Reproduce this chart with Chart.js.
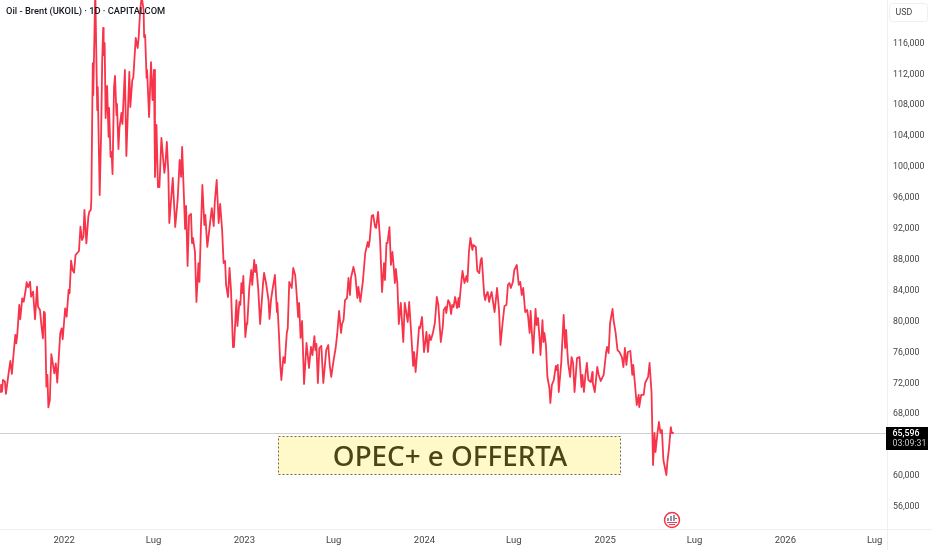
<!DOCTYPE html>
<html>
<head>
<meta charset="utf-8">
<style>html,body{margin:0;padding:0;background:#fff}canvas{display:block}</style>
<script src="https://cdn.jsdelivr.net/npm/chart.js@4"></script>
</head>
<body>
<canvas id="c" width="932" height="550"></canvas>
<script>
// days since 2022-01-01
const days = [-130,-128,-126,-124,-120,-118,-113,-109,-106,-103,-99,-97,-95,-91,-89,-85,-82,-78,-76,-73,-69,-67,-63,-59,-55,-53,-49,-46,-43,-41,-39,-36,-34,-32,-29,-26,-23,-20,-17,-14,-8,-5,-3,2,5,9,11,14,17,20,23,30,33,36,39,41,45,49,51,54,55,58,59,63,67,68,72,75,77,79,80,82,84,87,90,91,94,96,98,101,103,106,107,110,112,116,118,123,126,129,132,134,138,140,145,149,151,154,157,161,162,164,167,168,172,176,179,182,184,187,190,193,197,203,205,208,211,213,220,225,230,234,237,239,245,247,250,253,257,259,261,265,268,272,274,277,280,284,286,290,294,299,303,305,309,313,316,320,323,326,328,332,335,338,342,344,349,351,355,357,359,361,363,367,370,371,375,379,381,385,387,389,393,397,403,405,409,414,416,419,422,427,431,432,435,438,440,444,447,451,453,456,461,464,468,470,474,476,479,482,486,491,496,500,503,507,509,511,514,517,521,525,531,535,538,541,546,550,553,557,561,563,566,569,573,576,579,581,586,590,594,596,600,605,610,615,617,619,623,626,630,632,636,640,644,648,650,653,655,659,662,665,667,670,672,675,678,682,687,690,696,699,703,707,709,712,716,719,721,725,729,734,737,740,743,747,751,755,758,763,767,769,773,774,778,781,784,786,789,792,796,799,800,804,807,811,815,817,820,823,827,829,834,837,841,844,846,851,853,855,858,861,863,866,872,877,881,884,888,892,896,899,902,905,909,912,917,921,924,927,930,934,938,940,943,945,950,955,957,960,964,965,969,971,973,976,979,983,985,988,992,996,998,1000,1002,1007,1012,1015,1017,1019,1021,1025,1028,1031,1034,1039,1044,1048,1050,1053,1056,1059,1062,1067,1070,1071,1075,1080,1083,1087,1093,1098,1100,1103,1106,1111,1113,1117,1121,1125,1130,1133,1136,1139,1142,1147,1151,1153,1156,1160,1164,1165,1169,1174,1177,1183,1186,1190,1193,1196,1198,1202,1205,1208,1211,1214,1218,1220,1222,1225,1229,1231,1235];
const closes = [70.92,71.79,70.92,72.44,72.22,70.63,73.09,74.90,73.22,75.45,78.27,77.19,78.27,82.15,80.30,83.01,82.57,84.09,85.09,84.44,85.16,83.22,83.87,80.30,84.52,81.93,81.50,79.43,77.84,81.28,81.07,71.57,73.09,68.90,69.85,75.80,74.60,73.31,74.60,72.09,78.48,79.13,77.71,81.72,80.63,84.09,83.66,87.88,86.68,86.33,88.62,89.14,92.28,90.56,90.99,94.45,90.13,93.58,94.23,94.45,95.74,113.47,109.33,122.92,107.39,110.37,96.39,104.80,113.60,118.01,114.51,116.06,106.35,110.50,103.90,107.65,101.31,101.95,99.10,110.37,111.79,106.74,108.17,102.34,105.06,107.00,105.58,112.57,101.44,107.00,112.31,107.78,111.27,111.54,116.71,115.42,116.84,120.34,122.02,120.34,116.84,117.10,111.54,112.57,106.48,113.60,108.68,112.57,98.72,105.45,97.42,97.42,103.77,99.24,100.27,103.25,99.36,92.76,98.59,92.24,95.87,100.92,98.72,102.60,91.99,94.96,87.20,93.67,93.93,90.17,90.82,89.01,82.54,87.58,85.13,91.86,97.68,92.50,93.80,89.66,91.86,94.70,92.37,95.35,98.33,92.76,95.22,91.86,87.58,87.84,84.74,83.18,86.94,84.09,76.71,76.71,82.79,79.43,82.54,82.15,84.97,83.70,85.90,78.00,79.82,79.69,84.35,86.68,84.74,87.97,86.42,87.33,84.35,79.69,84.99,86.29,84.99,82.79,80.34,82.79,84.09,86.03,81.24,82.41,78.52,74.25,72.44,75.41,74.64,78.52,79.17,85.13,84.35,86.94,86.03,84.48,80.59,82.41,77.88,80.08,71.92,77.23,73.99,76.71,75.67,78.13,76.32,77.10,72.05,76.58,76.84,72.05,76.32,76.97,74.38,72.83,75.03,76.58,78.27,81.37,78.52,79.69,80.20,82.79,83.05,85.64,83.44,85.64,87.07,85.90,83.05,84.48,82.54,85.13,88.88,90.30,89.66,90.56,93.67,93.80,92.24,92.12,94.19,90.56,83.83,87.58,85.38,90.17,90.17,92.24,87.33,89.01,87.58,84.99,86.81,84.99,79.69,82.41,77.36,82.41,79.95,82.54,78.52,74.25,76.06,73.47,76.71,79.30,79.17,80.59,76.06,78.65,76.06,78.27,77.62,78.52,79.82,83.18,82.15,77.36,79.30,81.50,81.89,81.11,82.79,82.41,80.98,82.15,81.89,83.18,81.76,83.05,81.89,84.74,86.55,84.99,85.90,85.13,89.01,90.82,89.27,89.91,89.66,86.55,86.29,87.97,88.23,83.44,82.79,83.44,83.83,82.54,83.18,83.83,81.24,84.35,81.50,76.97,79.69,82.02,82.15,84.74,84.99,84.35,85.13,86.68,87.33,84.74,85.13,83.44,84.35,81.24,81.50,80.59,78.52,81.37,75.93,81.63,79.56,80.46,76.97,75.67,80.20,77.36,78.52,76.97,72.83,71.40,69.46,71.79,72.44,74.25,73.73,74.38,70.88,74.64,80.85,76.58,78.91,76.58,74.64,72.83,75.41,74.64,70.88,75.29,75.41,71.53,73.09,70.88,73.09,74.64,72.44,72.18,73.47,72.05,70.88,74.12,73.09,72.31,73.09,76.06,76.71,75.93,79.82,81.63,80.20,78.65,76.32,76.06,75.41,74.12,76.58,74.38,76.06,76.19,73.09,74.38,72.18,69.20,70.50,68.94,70.50,70.50,72.05,72.83,74.64,70.76,61.43,65.58,63.12,65.58,67.00,65.58,65.97,62.08,60.79,60.14,61.82,63.38,66.35,65.58,65.60];
const xTickDays = [0,181,365,546,730,911,1096,1277,1461,1642];
const xTickLabels = ['2022','Lug','2023','Lug','2024','Lug','2025','Lug','2026','Lug'];
const priceTicks = [56,60,68,72,76,80,84,88,92,96,100,104,108,112,116];
const lastPrice = 65.596;
const lastPriceText = '65,596';
const countdownText = '03:09:31';
const titleText = 'Oil - Brent (UKOIL) · 1D · CAPITALCOM';
const noteText = 'OPEC+ e OFFERTA';
const currencyText = 'USD';

const uiFont = 'Roboto';
const fmt = v => v.toFixed(3).replace('.', ',');
const noPad = s => { s.paddingTop = s.paddingBottom = s.paddingLeft = s.paddingRight = 0; };
const overlay = {
  id: 'overlay',
  beforeDatasetsDraw(chart) {
    const {ctx, chartArea: a, scales: {y}} = chart;
    const py = Math.round(y.getPixelForValue(lastPrice)) + 0.5;
    ctx.save();
    ctx.strokeStyle = '#d0d0d3';
    ctx.lineWidth = 1;
    ctx.beginPath(); ctx.moveTo(a.left, py); ctx.lineTo(a.right, py); ctx.stroke();
    ctx.restore();
  },
  afterDraw(chart) {
    const {ctx, chartArea: a, scales: {y}} = chart;
    const py = Math.round(y.getPixelForValue(lastPrice));
    ctx.save();
    ctx.strokeStyle = '#eeeff1';
    ctx.lineWidth = 1;
    ctx.beginPath();
    ctx.moveTo(a.right + 0.5, 0); ctx.lineTo(a.right + 0.5, 550);
    ctx.moveTo(0, a.bottom + 0.5); ctx.lineTo(932, a.bottom + 0.5);
    ctx.stroke();
    ctx.fillStyle = '#131722';
    ctx.font = '500 9.3px ' + uiFont;
    ctx.textAlign = 'left'; ctx.textBaseline = 'middle';
    ctx.fillText(titleText, 6, 11.5);
    ctx.fillStyle = '#fff9c9';
    ctx.fillRect(278, 436.5, 342, 38);
    ctx.strokeStyle = '#6e6a50';
    ctx.setLineDash([2, 2]);
    ctx.strokeRect(278.5, 436.5, 342, 38);
    ctx.setLineDash([]);
    ctx.fillStyle = '#4b4515';
    ctx.font = '500 27.8px "Noto Sans"';
    ctx.textAlign = 'center';
    ctx.fillText(noteText, 450, 458);
    ctx.fillStyle = '#000';
    ctx.fillRect(886, py - 6, 42, 23);
    ctx.textAlign = 'left';
    ctx.fillStyle = '#fff';
    ctx.font = '500 8.8px ' + uiFont;
    ctx.fillText(lastPriceText, 892.5, py + 0.5);
    ctx.fillStyle = '#c8c8c8';
    ctx.font = '8.8px ' + uiFont;
    ctx.fillText(countdownText, 892.5, py + 10.5);
    ctx.strokeStyle = '#eeeff1';
    ctx.fillStyle = '#fff';
    ctx.beginPath(); ctx.roundRect(889.5, 3.5, 38, 18, 3); ctx.fill(); ctx.stroke();
    ctx.fillStyle = '#444';
    ctx.font = '8.8px ' + uiFont;
    ctx.fillText(currencyText, 895.5, 12.5);
    const cx = 672, cy = 520;
    ctx.beginPath(); ctx.arc(cx, cy, 7.5, 0, Math.PI * 2);
    ctx.fillStyle = '#fff'; ctx.fill();
    ctx.strokeStyle = '#f0364a'; ctx.lineWidth = 1.5; ctx.stroke();
    ctx.fillStyle = '#8d95a5';
    ctx.fillRect(cx - 5, cy - 2, 2, 3); ctx.fillRect(cx - 2, cy - 4, 2, 5); ctx.fillRect(cx + 1, cy - 5, 2, 6);
    ctx.fillStyle = '#f0364a';
    ctx.fillRect(cx - 5, cy + 2, 10, 1); ctx.fillRect(cx - 3, cy + 4, 6, 1); ctx.fillRect(cx + 3, cy - 2, 2, 1);
    ctx.restore();
  }
};

new Chart(document.getElementById('c'), {
  type: 'line',
  data: {
    datasets: [{
      data: days.map((d, i) => ({x: d, y: closes[i]})),
      borderColor: '#f7344a',
      borderWidth: 1.8,
      pointRadius: 0,
      tension: 0,
      borderJoinStyle: 'round'
    }]
  },
  options: {
    responsive: false,
    animation: false,
    devicePixelRatio: 1,
    layout: {padding: 0},
    plugins: {legend: {display: false}, tooltip: {enabled: false}, title: {display: false}},
    scales: {
      x: {
        type: 'linear', min: -130, max: 1667,
        grid: {display: false, drawTicks: false, tickLength: 0}, border: {display: false},
        afterFit(s) { s.height = 21; noPad(s); },
        afterBuildTicks(s) { s.ticks = xTickDays.map(v => ({value: v})); },
        ticks: {
          autoSkip: false, maxRotation: 0, padding: 6,
          color: '#444',
          font: {family: uiFont, size: 9.5},
          callback: v => xTickLabels[xTickDays.indexOf(v)]
        }
      },
      y: {
        position: 'right', min: 53.15, max: 121.63,
        grid: {display: false, drawTicks: false, tickLength: 0}, border: {display: false},
        afterFit(s) { s.width = 45; noPad(s); },
        afterBuildTicks(s) { s.ticks = priceTicks.map(v => ({value: v})); },
        ticks: {
          autoSkip: false, padding: 6,
          color: '#444',
          font: {family: uiFont, size: 8.8},
          callback: v => fmt(v)
        }
      }
    }
  },
  plugins: [overlay]
});
</script>
</body>
</html>
